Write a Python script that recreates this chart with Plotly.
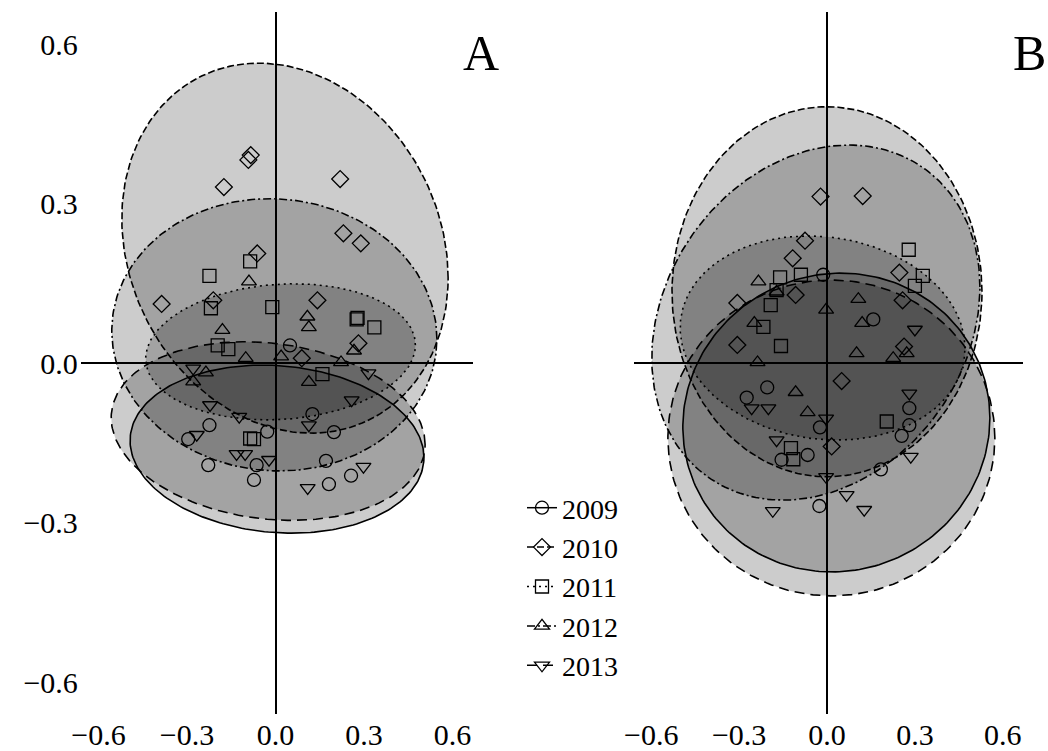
import numpy as np
import plotly.graph_objects as go

years = ["2009", "2010", "2011", "2012", "2013"]
symbols = ["circle-open", "diamond-open", "square-open", "triangle-up-open", "triangle-down-open"]
dashes = ["solid", "7px,3px", "2px,4px", "8px,3px,2px,3px", "10px,6px"]

tick_vals = [-0.6, -0.3, 0.0, 0.3, 0.6]
tick_text = ["\u22120.6", "\u22120.3", "0.0", "0.3", "0.6"]

# ---------------- Panel A scores ----------------
a2009_x = [0.049, 0.125, -0.224, -0.296, -0.028, 0.198, -0.228, -0.064, -0.073, 0.171, 0.256, 0.181]
a2009_y = [0.033, -0.096, -0.117, -0.143, -0.129, -0.130, -0.192, -0.192, -0.220, -0.184, -0.212, -0.228]
a2010_x = [-0.092, -0.084, -0.175, 0.219, 0.230, 0.289, -0.062, -0.386, -0.211, 0.142, 0.281, 0.089]
a2010_y = [0.382, 0.391, 0.331, 0.346, 0.244, 0.225, 0.206, 0.111, 0.118, 0.118, 0.037, 0.009]
a2011_x = [-0.086, -0.224, -0.219, -0.011, 0.275, 0.278, 0.335, -0.196, -0.160, 0.159, -0.086, -0.073]
a2011_y = [0.191, 0.164, 0.103, 0.105, 0.082, 0.085, 0.067, 0.033, 0.026, -0.021, -0.142, -0.143]
a2012_x = [-0.090, 0.108, 0.113, -0.180, 0.266, -0.101, 0.019, 0.222, -0.236, 0.113, -0.279]
a2012_y = [0.153, 0.087, 0.067, 0.062, 0.023, 0.009, 0.012, 0.001, -0.018, -0.036, -0.035]
a2013_x = [-0.279, 0.315, -0.222, 0.258, -0.123, 0.113, -0.267, -0.132, -0.103, -0.022, 0.298, 0.109]
a2013_y = [-0.010, -0.019, -0.079, -0.070, -0.101, -0.117, -0.135, -0.171, -0.171, -0.182, -0.195, -0.235]

# ---------------- Panel B scores ----------------
b2009_x = [-0.013, 0.158, -0.204, -0.274, -0.024, 0.281, 0.281, 0.255, -0.066, -0.155, 0.184, -0.026]
b2009_y = [0.166, 0.082, -0.046, -0.065, -0.121, -0.085, -0.117, -0.137, -0.173, -0.182, -0.200, -0.269]
b2010_x = [-0.022, 0.122, -0.075, -0.117, 0.247, -0.107, 0.258, -0.306, -0.306, 0.263, 0.050, 0.016]
b2010_y = [0.313, 0.314, 0.230, 0.197, 0.170, 0.128, 0.118, 0.113, 0.034, 0.031, -0.034, -0.157]
b2011_x = [0.279, 0.327, 0.300, -0.160, -0.089, -0.172, -0.192, -0.217, -0.157, 0.204, -0.123, -0.115]
b2011_y = [0.213, 0.164, 0.145, 0.161, 0.166, 0.137, 0.109, 0.068, 0.032, -0.110, -0.160, -0.181]
b2012_x = [-0.234, -0.172, 0.107, -0.003, -0.248, 0.120, 0.101, 0.226, 0.272, -0.237, -0.107, -0.066]
b2012_y = [0.153, 0.134, 0.120, 0.100, 0.075, 0.075, 0.018, 0.009, 0.018, 0.001, -0.055, -0.093]
b2013_x = [0.300, 0.281, -0.257, -0.200, -0.003, -0.172, 0.286, -0.003, 0.067, -0.185, 0.127]
b2013_y = [0.063, -0.057, -0.085, -0.085, -0.104, -0.145, -0.176, -0.214, -0.248, -0.278, -0.276]

# ---------------- Ellipse parameters (centre, half-extents, tilt) ----------------
ellA_cx = [0.005, 0.032, 0.017, -0.004, -0.025]
ellA_cy = [-0.162, 0.216, 0.021, 0.053, -0.128]
ellA_rx = [0.498, 0.553, 0.457, 0.551, 0.532]
ellA_ry = [0.158, 0.348, 0.128, 0.256, 0.168]
ellA_tilt = [-0.10, -0.16, 0.10, -0.03, -0.15]

ellB_cx = [0.032, 0.000, -0.015, -0.038, 0.015]
ellB_cy = [-0.112, 0.134, 0.047, 0.076, -0.141]
ellB_rx = [0.524, 0.529, 0.486, 0.560, 0.558]
ellB_ry = [0.281, 0.348, 0.192, 0.334, 0.297]
ellB_tilt = [0.03, 0.0, -0.10, 0.20, 0.0]

panels = {
    "A": dict(xs=[a2009_x, a2010_x, a2011_x, a2012_x, a2013_x],
              ys=[a2009_y, a2010_y, a2011_y, a2012_y, a2013_y],
              ell=(ellA_cx, ellA_cy, ellA_rx, ellA_ry, ellA_tilt), xa="x", ya="y"),
    "B": dict(xs=[b2009_x, b2010_x, b2011_x, b2012_x, b2013_x],
              ys=[b2009_y, b2010_y, b2011_y, b2012_y, b2013_y],
              ell=(ellB_cx, ellB_cy, ellB_rx, ellB_ry, ellB_tilt), xa="x2", ya="y2"),
}

fig = go.Figure()
t = np.linspace(0, 2 * np.pi, 240)

for name, p in panels.items():
    cx, cy, rx, ry, tilt = p["ell"]
    for i in range(5):
        c = tilt[i]
        s = np.sqrt(1 - c * c)
        ex = cx[i] + rx[i] * np.cos(t)
        ey = cy[i] + ry[i] * (c * np.cos(t) + s * np.sin(t))
        fig.add_trace(go.Scatter(
            x=ex, y=ey, mode="lines", fill="toself",
            fillcolor="rgba(0,0,0,0.2)",
            line=dict(color="black", width=1.6, dash=dashes[i]),
            xaxis=p["xa"], yaxis=p["ya"], showlegend=False, hoverinfo="skip"))
    for i in range(5):
        fig.add_trace(go.Scatter(
            x=p["xs"][i], y=p["ys"][i], mode="markers",
            marker=dict(symbol=symbols[i], size=13, color="black",
                        line=dict(color="black", width=1.3)),
            xaxis=p["xa"], yaxis=p["ya"], showlegend=False, name=years[i]))

for i in range(5):
    fig.add_trace(go.Scatter(
        x=[None], y=[None], mode="lines+markers", name=years[i],
        line=dict(color="black", width=1.5, dash=dashes[i]),
        marker=dict(symbol=symbols[i], size=13, color="black",
                    line=dict(color="black", width=1.3)),
        xaxis="x", yaxis="y"))

family = "Liberation Serif, Times New Roman, serif"
tick_font = dict(family=family, size=30, color="black")
legend_font = dict(family=family, size=28, color="black")
W, H = 1048, 751
ydom = [(H - 713.9) / H, (H - 12.1) / H]
axis_common = dict(range=[-0.66, 0.67], showgrid=False, showline=False, zeroline=True,
                   zerolinecolor="black", zerolinewidth=1.6, tickvals=tick_vals,
                   ticktext=tick_text, ticks="", tickfont=tick_font, ticklabelstandoff=0,
                   fixedrange=True, automargin=False)
yaxis_common = dict(range=[-0.66, 0.66], showgrid=False, showline=False, zeroline=True,
                    zerolinecolor="black", zerolinewidth=1.6, tickvals=tick_vals,
                    ticktext=tick_text, ticks="", tickfont=tick_font, ticklabelstandoff=2,
                    fixedrange=True, domain=ydom, automargin=False)

fig.update_layout(
    width=W, height=H,
    margin=dict(l=0, r=0, t=0, b=0, autoexpand=False),
    paper_bgcolor="white", plot_bgcolor="white",
    font=tick_font,
    xaxis=dict(axis_common, domain=[80.8 / W, 473.2 / W], anchor="y"),
    yaxis=dict(yaxis_common, anchor="x"),
    xaxis2=dict(axis_common, domain=[633.6 / W, 1023.3 / W], anchor="y2"),
    yaxis2=dict(yaxis_common, anchor="x2", showticklabels=False),
    legend=dict(x=522 / W, y=1 - 483 / H, xanchor="left", yanchor="top",
                bgcolor="rgba(0,0,0,0)", font=legend_font, itemclick=False),
    annotations=[
        dict(text="A", x=481 / W, y=1 - 53 / H, xref="paper", yref="paper",
             showarrow=False, font=dict(family=family, size=50, color="black"),
             xanchor="center", yanchor="middle"),
        dict(text="B", x=1029 / W, y=1 - 53 / H, xref="paper", yref="paper",
             showarrow=False, font=dict(family=family, size=50, color="black"),
             xanchor="center", yanchor="middle"),
    ],
)

fig.write_html("out.html")
